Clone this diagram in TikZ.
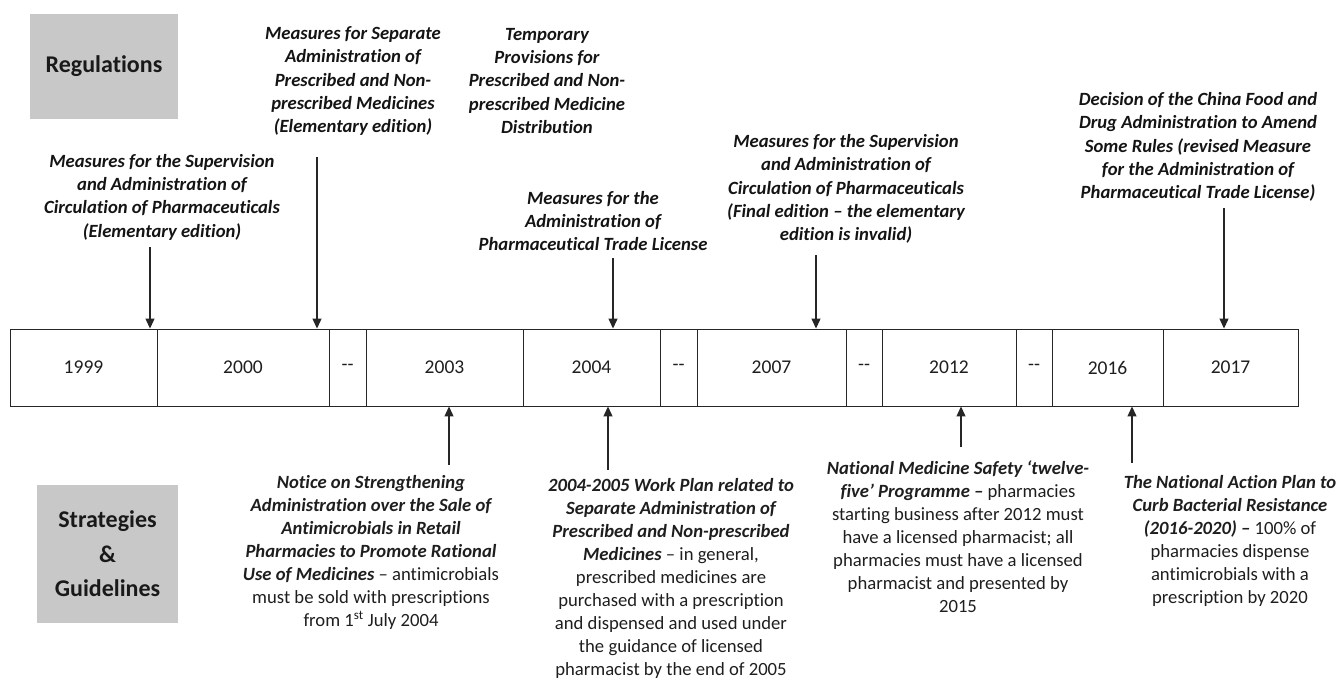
\documentclass[tikz,border=0pt]{standalone}
\usepackage{fontspec}
\setmainfont{Carlito}[Ligatures={TeX,NoCommon}]
\usetikzlibrary{arrows.meta}
\newcommand{\BI}[1]{{\bfseries\itshape #1}}
\definecolor{hdrgray}{RGB}{200,200,200}
\definecolor{txt}{RGB}{30,30,30}
\tikzset{
  cell/.style={draw=black!85, line width=0.9pt, minimum height=77pt, inner sep=0pt, text=txt,
    font=\fontsize{19.5}{22}\selectfont},
  header/.style={fill=hdrgray, inner sep=0pt, text=black!90, align=center,
    font=\fontsize{24}{34.5}\selectfont\bfseries},
  regtext/.style={align=center, inner sep=0pt, text=black!92,
    font=\fontsize{18.67}{23.3}\selectfont\bfseries\itshape},
  strtext/.style={align=center, inner sep=0pt, text=txt,
    font=\fontsize{18.67}{23}\selectfont},
  arr/.style={draw=black!85, line width=1.1pt, -{Triangle[length=10pt,width=9pt]}},
}
\begin{document}
\begin{tikzpicture}[x=1pt,y=-1pt]
\useasboundingbox (0,0) rectangle (1340,682);
% header boxes
\node[header, minimum width=148pt, minimum height=105pt] (reg) at (104,66.5) {Regulations};
\node[header, minimum width=141pt, minimum height=138pt] (str) at (107.5,554) {Strategies\\\&\\Guidelines};
% timeline cells
\node[cell, minimum width=147pt] (c1999) at (83.5,367.5) {1999};
\node[cell, minimum width=172pt] (c2000) at (243,367.5) {2000};
\node[cell, minimum width=37pt] (g1) at (347.5,367.5) {-\kern0pt-};
\node[cell, minimum width=157pt] (c2003) at (444.5,367.5) {2003};
\node[cell, minimum width=137pt] (c2004) at (591.5,367.5) {2004};
\node[cell, minimum width=37pt] (g2) at (678.5,367.5) {-\kern0pt-};
\node[cell, minimum width=149pt] (c2007) at (771.5,367.5) {2007};
\node[cell, minimum width=36pt] (g3) at (864,367.5) {-\kern0pt-};
\node[cell, minimum width=134pt] (c2012) at (949,367.5) {2012};
\node[cell, minimum width=36pt] (g4) at (1034,367.5) {-\kern0pt-};
\node[cell, minimum width=111pt] (c2016) at (1107.5,367.5) {2016};
\node[cell, minimum width=135pt] (c2017) at (1230.5,367.5) {2017};
% regulations texts
\node[regtext] (r1) at (162,197) {Measures for the Supervision\\and Administration of\\Circulation of Pharmaceuticals\\(Elementary edition)};
\node[regtext] (r2) at (353,81) {Measures for Separate\\Administration of\\Prescribed and Non-\\prescribed Medicines\\(Elementary edition)};
\node[regtext] (r3) at (547,81) {Temporary\\Provisions for\\Prescribed and Non-\\prescribed Medicine\\Distribution};
\node[regtext] (r4) at (593,221) {Measures for the\\Administration of\\Pharmaceutical Trade License};
\node[regtext] (r5) at (846,189) {Measures for the Supervision\\and Administration of\\Circulation of Pharmaceuticals\\(Final edition -- the elementary\\edition is invalid)};
\node[regtext] (r6) at (1198,147) {Decision of the China Food and\\Drug Administration to Amend\\Some Rules (revised Measure\\for the Administration of\\Pharmaceutical Trade License)};
% strategy texts
\node[strtext] (s1) at (371,552) {\BI{Notice on Strengthening}\\\BI{Administration over the Sale of}\\\BI{Antimicrobials in Retail}\\\BI{Pharmacies to Promote Rational}\\\BI{Use of Medicines} -- antimicrobials\\must be sold with prescriptions\\from 1\textsuperscript{st} July 2004};
\node[strtext] (s2) at (671,578) {\BI{2004-2005 Work Plan related to}\\\BI{Separate Administration of}\\\BI{Prescribed and Non-prescribed}\\\BI{Medicines} -- in general,\\prescribed medicines are\\purchased with a prescription\\and dispensed and used under\\the guidance of licensed\\pharmacist by the end of 2005};
\node[strtext] (s3) at (958,537) {\BI{National Medicine Safety ‘twelve-}\\\BI{five’ Programme --} pharmacies\\starting business after 2012 must\\have a licensed pharmacist; all\\pharmacies must have a licensed\\pharmacist and presented by\\2015};
\node[strtext] (s4) at (1230,541) {\BI{The National Action Plan to}\\\BI{Curb Bacterial Resistance}\\\BI{(2016-2020) --} 100\% of\\pharmacies dispense\\antimicrobials with a\\prescription by 2020};
% arrow tails
\coordinate (a1) at (150,247);
\coordinate (a2) at (317,157);
\coordinate (a4) at (613,258);
\coordinate (a5) at (816,255);
\coordinate (a6) at (1224,208);
\coordinate (b1) at (449,465);
\coordinate (b2) at (608,470);
\coordinate (b3) at (961,447);
\coordinate (b4) at (1132,463);
% arrows
\draw[arr] (a1) -- (a1 |- c1999.north);
\draw[arr] (a2) -- (a2 |- c2000.north);
\draw[arr] (a4) -- (a4 |- c2004.north);
\draw[arr] (a5) -- (a5 |- c2007.north);
\draw[arr] (a6) -- (a6 |- c2017.north);
\draw[arr] (b1) -- (b1 |- c2003.south);
\draw[arr] (b2) -- (b2 |- c2004.south);
\draw[arr] (b3) -- (b3 |- c2012.south);
\draw[arr] (b4) -- (b4 |- c2016.south);
\end{tikzpicture}
\end{document}
